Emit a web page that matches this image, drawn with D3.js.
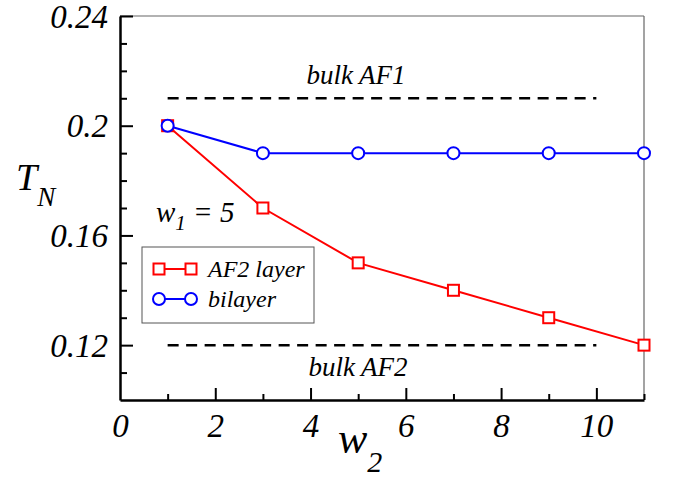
<!DOCTYPE html>
<html lang="en">
<head>
  <meta charset="UTF-8" />
  <title>T_N vs w2</title>
  <script src="https://d3js.org/d3.v7.min.js"></script>
  <style>
    body { margin: 0; background: #fff; }
  </style>
</head>
<body>
<div id="chart"></div>
<script>
// data
const w2Values = [1, 3, 5, 7, 9, 11];
const af2Layer = [0.20, 0.17, 0.15, 0.14, 0.13, 0.12];
const bilayer = [0.20, 0.19, 0.19, 0.19, 0.19, 0.19];
const bulkLines = [
  { label: "bulk AF1", value: 0.21, from: 1, to: 10 },
  { label: "bulk AF2", value: 0.12, from: 1, to: 10 }
];
const xMajor = [0, 2, 4, 6, 8, 10];
const xMinor = [1, 3, 5, 7, 9, 11];
const yMajor = [0.12, 0.16, 0.2, 0.24];
const yMinor = [0.11, 0.13, 0.14, 0.15, 0.17, 0.18, 0.19, 0.21, 0.22, 0.23];

const width = 678, height = 481;
const margin = { top: 16, right: 34, bottom: 81, left: 120 };

const svg = d3.select("#chart").append("svg")
  .attr("width", width).attr("height", height);

// serif italic everywhere, like the original
function serif(sel, size) {
  return sel.style("font-family", "'Liberation Serif'").style("font-style", "italic")
    .style("font-size", size + "px").attr("fill", "#000");
}

const x = d3.scaleLinear().domain([0, 11]).range([margin.left, width - margin.right]);
const y = d3.scaleLinear().domain([0.10, 0.24]).range([height - margin.bottom, margin.top]);

// frame: thin grey top/right
svg.append("line").attr("x1", x(0)).attr("x2", x(11)).attr("y1", y(0.24)).attr("y2", y(0.24))
  .attr("stroke", "#666").attr("stroke-width", 1.2);
svg.append("line").attr("x1", x(11)).attr("x2", x(11)).attr("y1", y(0.24)).attr("y2", y(0.10))
  .attr("stroke", "#666").attr("stroke-width", 1.2);

// minor ticks
svg.append("g").attr("transform", `translate(0,${y(0.10)})`)
  .call(d3.axisBottom(x).tickValues(xMinor).tickSize(-6).tickFormat(""))
  .call(g => g.select(".domain").remove())
  .selectAll("line").attr("stroke-width", 2);
svg.append("g").attr("transform", `translate(${x(0)},0)`)
  .call(d3.axisLeft(y).tickValues(yMinor).tickSize(-7).tickFormat(""))
  .call(g => g.select(".domain").remove())
  .selectAll("line").attr("stroke-width", 2);

// major axes
const xAxis = svg.append("g").attr("transform", `translate(0,${y(0.10)})`)
  .call(d3.axisBottom(x).tickValues(xMajor).tickSize(-12).tickSizeOuter(0).tickPadding(14));
const yAxis = svg.append("g").attr("transform", `translate(${x(0)},0)`)
  .call(d3.axisLeft(y).tickValues(yMajor).tickSize(-13).tickSizeOuter(0).tickPadding(12)
    .tickFormat(d => String(+d.toFixed(2))));

[xAxis, yAxis].forEach(a => {
  a.attr("font-family", null).attr("font-size", null);
  a.selectAll("line").attr("stroke", "#000").attr("stroke-width", 2);
  a.select(".domain").attr("stroke", "#000").attr("stroke-width", 2.5);
  serif(a.selectAll("text"), 33);
});
xAxis.selectAll(".tick line").filter(d => d === 0).remove();
yAxis.selectAll("text").attr("dy", "0.34em");

// dashed bulk lines
svg.selectAll(".bulk").data(bulkLines).join("line")
  .attr("class", "bulk")
  .attr("x1", d => x(d.from)).attr("x2", d => x(d.to))
  .attr("y1", d => y(d.value)).attr("y2", d => y(d.value))
  .attr("stroke", "#000").attr("stroke-width", 2.5).attr("stroke-dasharray", "11,7.5");

serif(svg.append("text").attr("x", 356).attr("y", 84).attr("text-anchor", "middle"), 27)
  .text(bulkLines[0].label);
serif(svg.append("text").attr("x", 358).attr("y", 376).attr("text-anchor", "middle"), 27)
  .text(bulkLines[1].label);

// series
const line = d3.line().x(d => x(d[0])).y(d => y(d[1]));
const af2Pts = w2Values.map((w, i) => [w, af2Layer[i]]);
const biPts = w2Values.map((w, i) => [w, bilayer[i]]);

svg.append("path").datum(af2Pts).attr("d", line)
  .attr("fill", "none").attr("stroke", "#ff0000").attr("stroke-width", 2);
svg.selectAll(".sq").data(af2Pts).join("rect").attr("class", "sq")
  .attr("x", d => x(d[0]) - 5.5).attr("y", d => y(d[1]) - 5.5)
  .attr("width", 11).attr("height", 11)
  .attr("fill", "#fff").attr("stroke", "#ff0000").attr("stroke-width", 2);

svg.append("path").datum(biPts).attr("d", line)
  .attr("fill", "none").attr("stroke", "#0000ff").attr("stroke-width", 2);
svg.selectAll(".ci").data(biPts).join("circle").attr("class", "ci")
  .attr("cx", d => x(d[0])).attr("cy", d => y(d[1])).attr("r", 6)
  .attr("fill", "#fff").attr("stroke", "#0000ff").attr("stroke-width", 2);

// w1 = 5 annotation
const ann = serif(svg.append("text").attr("x", 156).attr("y", 222), 29);
ann.append("tspan").text("w");
ann.append("tspan").attr("dy", 8).style("font-size", "21px").text("1");
ann.append("tspan").attr("dy", -8).text(" = 5");

// legend
const leg = svg.append("g").attr("transform", "translate(142,247)");
leg.append("rect").attr("width", 172).attr("height", 76)
  .attr("fill", "#fff").attr("stroke", "#555").attr("stroke-width", 1);
const legItems = [
  { label: "AF2 layer", color: "#ff0000", shape: "square", cy: 22 },
  { label: "bilayer", color: "#0000ff", shape: "circle", cy: 52 }
];
legItems.forEach(it => {
  const g = leg.append("g");
  g.append("line").attr("x1", 17).attr("x2", 49).attr("y1", it.cy).attr("y2", it.cy)
    .attr("stroke", it.color).attr("stroke-width", 2);
  [17, 49].forEach(cx => {
    if (it.shape === "square") {
      g.append("rect").attr("x", cx - 5.5).attr("y", it.cy - 5.5).attr("width", 11).attr("height", 11)
        .attr("fill", "#fff").attr("stroke", it.color).attr("stroke-width", 2);
    } else {
      g.append("circle").attr("cx", cx).attr("cy", it.cy).attr("r", 6)
        .attr("fill", "#fff").attr("stroke", it.color).attr("stroke-width", 2);
    }
  });
  serif(g.append("text").attr("x", 66).attr("y", it.cy + 8), 24).text(it.label);
});

// axis titles
const yt = serif(svg.append("text").attr("x", 16).attr("y", 190), 38);
yt.append("tspan").text("T");
yt.append("tspan").attr("dy", 16).style("font-size", "27px").text("N");

const xt = serif(svg.append("text").attr("x", 338).attr("y", 453), 44);
xt.append("tspan").text("w");
xt.append("tspan").attr("dy", 19).style("font-size", "30px").text("2");
</script>
</body>
</html>
